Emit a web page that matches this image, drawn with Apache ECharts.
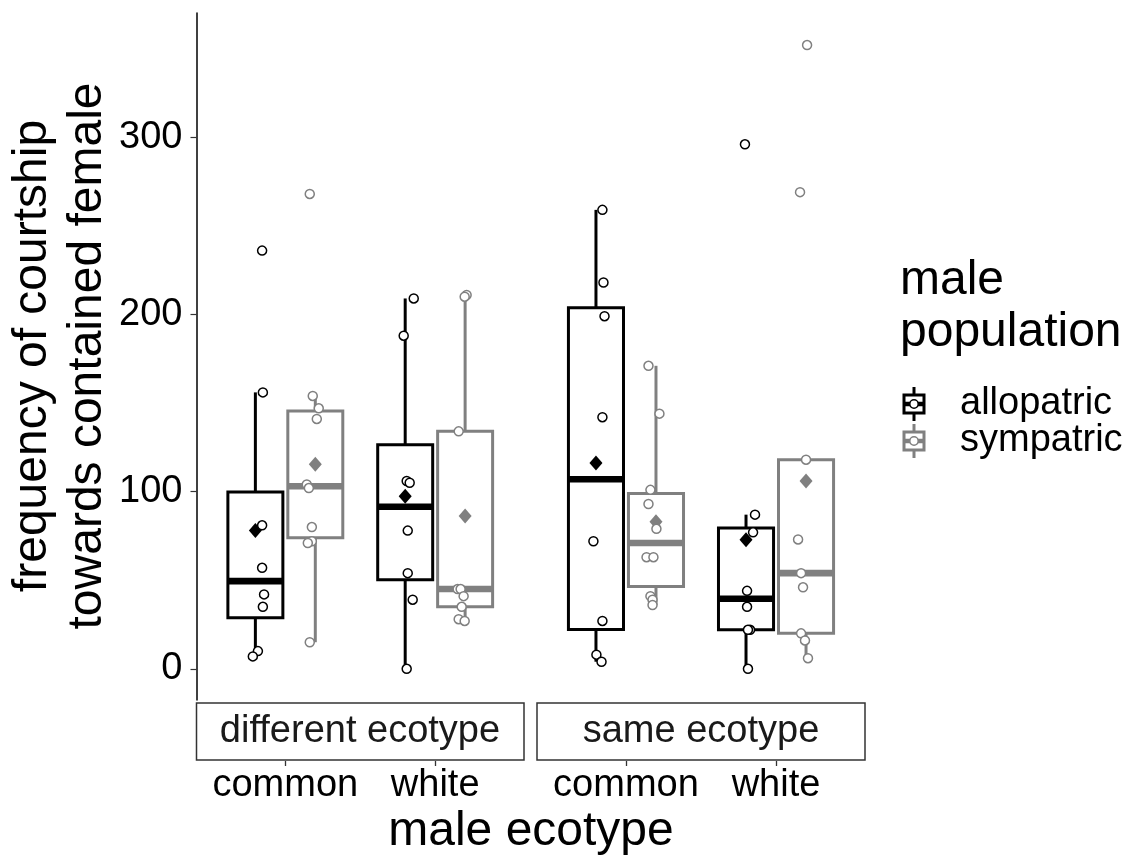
<!DOCTYPE html>
<html><head><meta charset="utf-8">
<script src="https://cdn.jsdelivr.net/npm/echarts@6/dist/echarts.min.js"></script>
<style>html,body{margin:0;padding:0;background:#fff}#c{width:1142px;height:857px}</style>
</head><body><div id="c"></div>
<script>
// ---------- data ----------
const facets = ['different ecotype', 'same ecotype'];
const ecotypes = ['common', 'white'];
const populations = ['allopatric', 'sympatric'];
const yTicks = [0, 100, 200, 300];

const diffCommonAllo = [236, 156, 81, 57, 42, 35, 10, 7];
const diffCommonSym  = [268, 154, 147, 141, 104, 102, 80, 72, 71, 15];
const diffWhiteAllo  = [209, 188, 106, 105, 78, 54, 39, 0];
const diffWhiteSym   = [211, 210, 134, 45, 45, 41, 35, 28, 27];
const sameCommonAllo = [259, 218, 199, 142, 72, 27, 8, 4];
const sameCommonSym  = [171, 144, 101, 93, 79, 63, 63, 41, 39, 36];
const sameWhiteAllo  = [296, 87, 77, 44, 35, 22, 22, 0];
const sameWhiteSym   = [352, 269, 118, 73, 54, 46, 20, 16, 6];

// horizontal jitter of each point (category units)
const diffCommonAlloJit = [0.045, 0.05, 0.045, 0.045, 0.058, 0.05, 0.017, -0.017];
const diffCommonSymJit  = [-0.037, -0.017, 0.023, 0.01, -0.057, -0.043, -0.023, -0.023, -0.05, -0.037];
const diffWhiteAlloJit  = [0.057, -0.01, 0.01, 0.03, 0.017, 0.017, 0.05, 0.01];
const diffWhiteSymJit   = [0.01, -0.003, -0.043, -0.05, -0.03, -0.01, -0.023, -0.043, -0.003];
const sameCommonAlloJit = [0.043, 0.05, 0.057, 0.043, -0.017, 0.043, 0.003, 0.037];
const sameCommonSymJit  = [-0.05, 0.023, -0.037, -0.05, 0.003, -0.063, -0.017, -0.037, -0.023, -0.023];
const sameWhiteAlloJit  = [-0.007, 0.06, 0.047, 0.007, 0.007, 0.027, 0.013, 0.013];
const sameWhiteSymJit   = [0.007, -0.04, 0, -0.053, -0.033, -0.02, -0.033, -0.007, 0.013];

const values = [
  [[diffCommonAllo, diffCommonSym], [diffWhiteAllo, diffWhiteSym]],
  [[sameCommonAllo, sameCommonSym], [sameWhiteAllo, sameWhiteSym]]
];
const jitters = [
  [[diffCommonAlloJit, diffCommonSymJit], [diffWhiteAlloJit, diffWhiteSymJit]],
  [[sameCommonAlloJit, sameCommonSymJit], [sameWhiteAlloJit, sameWhiteSymJit]]
];

// ---------- style ----------
const FONT = '"Liberation Sans", Arial, Helvetica, sans-serif';
const COLORS = ['#000000', '#808080'];
const DODGE = 0.2, BOX_W = 0.367;
const LW = 3;

function quantile(s, p) {
  const h = (s.length - 1) * p, lo = Math.floor(h);
  const nxt = lo + 1 < s.length ? s[lo + 1] : s[lo];
  return s[lo] + (h - lo) * (nxt - s[lo]);
}
function boxStats(arr) {
  const s = arr.slice().sort((a, b) => a - b);
  const q1 = quantile(s, 0.25), med = quantile(s, 0.5), q3 = quantile(s, 0.75);
  const iqr = q3 - q1;
  const lo = Math.min(...s.filter(v => v >= q1 - 1.5 * iqr));
  const hi = Math.max(...s.filter(v => v <= q3 + 1.5 * iqr));
  return [lo, q1, med, q3, hi];
}
function mean(a) { return a.reduce((x, y) => x + y, 0) / a.length; }

function makeRender(color) {
  return function (params, api) {
    const x = api.value(0);
    const pLo = api.coord([x, api.value(1)]);
    const cx = pLo[0], yLo = pLo[1];
    const yQ1 = api.coord([x, api.value(2)])[1];
    const yMed = api.coord([x, api.value(3)])[1];
    const yQ3 = api.coord([x, api.value(4)])[1];
    const yHi = api.coord([x, api.value(5)])[1];
    const xl = api.coord([x - BOX_W / 2, 0])[0];
    const xr = api.coord([x + BOX_W / 2, 0])[0];
    const ls = { stroke: color, lineWidth: LW, lineCap: 'butt' };
    return {
      type: 'group',
      children: [
        { type: 'line', shape: { x1: cx, y1: yHi, x2: cx, y2: yQ3 }, style: ls },
        { type: 'line', shape: { x1: cx, y1: yQ1, x2: cx, y2: yLo }, style: ls },
        { type: 'rect', shape: { x: xl, y: yQ3, width: xr - xl, height: yQ1 - yQ3 },
          style: { fill: '#ffffff', stroke: color, lineWidth: LW, lineJoin: 'miter' } },
        { type: 'line', shape: { x1: xl, y1: yMed, x2: xr, y2: yMed },
          style: { stroke: color, lineWidth: LW * 2.2, lineCap: 'butt' } }
      ]
    };
  };
}

const grids = [
  { left: 196.5, top: 13, width: 327.5, height: 687 },
  { left: 537, top: 13, width: 328, height: 687 }
];
const xAxes = [], yAxes = [], series = [];
for (let f = 0; f < 2; f++) {
  xAxes.push({
    type: 'value', gridIndex: f, min: -0.593, max: 1.593, position: 'bottom', offset: 61,
    axisLine: { show: false, onZero: false },
    axisTick: { show: true, customValues: [0, 1], length: 5, lineStyle: { color: '#333', width: 1.3 } },
    axisLabel: { customValues: [0, 1], formatter: v => ecotypes[Math.round(v)],
      fontSize: 38, fontFamily: FONT, color: '#000', margin: 6, lineHeight: 38 },
    splitLine: { show: false }
  });
  yAxes.push({
    type: 'value', gridIndex: f, min: -17.6, max: 370.1, position: 'left', show: f === 0,
    axisLine: { show: true, onZero: false, lineStyle: { color: '#000', width: 1.5 } },
    axisTick: { show: true, customValues: yTicks, length: 6, lineStyle: { color: '#333', width: 1.2 } },
    axisLabel: { customValues: yTicks, fontSize: 38, fontFamily: FONT, color: '#000', margin: 14 },
    splitLine: { show: false }
  });
  for (let p = 0; p < 2; p++) {
    const off = p === 0 ? -DODGE : DODGE;
    const boxData = [], meanData = [], ptData = [];
    for (let e = 0; e < 2; e++) {
      const v = values[f][e][p], j = jitters[f][e][p];
      boxData.push([e + off].concat(boxStats(v)));
      meanData.push([e + off, mean(v)]);
      v.forEach((val, i) => ptData.push([e + off + j[i], val]));
    }
    series.push({
      type: 'custom', name: populations[p], xAxisIndex: f, yAxisIndex: f,
      renderItem: makeRender(COLORS[p]), data: boxData, z: 2,
      encode: { x: 0, y: [1, 2, 3, 4, 5] }
    });
    series.push({
      type: 'scatter', xAxisIndex: f, yAxisIndex: f, data: meanData, z: 3,
      symbol: 'diamond', symbolSize: [13, 15], itemStyle: { color: COLORS[p], opacity: 1 }, silent: true
    });
    series.push({
      type: 'scatter', xAxisIndex: f, yAxisIndex: f, data: ptData, z: 4,
      symbol: 'circle', symbolSize: 9,
      itemStyle: { color: '#ffffff', borderColor: COLORS[p], borderWidth: 1.5, opacity: 1 }, silent: true
    });
  }
}

// legend key glyph
function legendKey(cx, cy, color) {
  return {
    type: 'group', children: [
      { type: 'line', shape: { x1: cx, y1: cy - 17, x2: cx, y2: cy + 17 }, style: { stroke: color, lineWidth: 3 } },
      { type: 'rect', shape: { x: cx - 10, y: cy - 9, width: 20, height: 18 }, style: { fill: '#fff', stroke: color, lineWidth: 3 } },
      { type: 'line', shape: { x1: cx - 10, y1: cy, x2: cx + 10, y2: cy }, style: { stroke: color, lineWidth: 4.5 } },
      { type: 'circle', shape: { cx: cx, cy: cy, r: 4.2 }, style: { fill: '#fff', stroke: color, lineWidth: 1.5 } }
    ]
  };
}

const graphic = [
  { type: 'text', x: 60, y: 356, rotation: Math.PI / 2,
    style: { text: 'frequency of courtship\ntowards contained female', font: '48px ' + FONT,
      lineHeight: 55, align: 'center', verticalAlign: 'middle', fill: '#000' } },
  { type: 'text', x: 531, y: 832,
    style: { text: 'male ecotype', font: '48px ' + FONT, align: 'center', verticalAlign: 'middle', fill: '#000' } },
  { type: 'rect', shape: { x: 196.5, y: 703, width: 327.5, height: 57 }, style: { fill: 'none', stroke: '#333', lineWidth: 1.5 } },
  { type: 'text', x: 360, y: 732,
    style: { text: facets[0], font: '38px ' + FONT, align: 'center', verticalAlign: 'middle', fill: '#1a1a1a' } },
  { type: 'rect', shape: { x: 537, y: 703, width: 328, height: 57 }, style: { fill: 'none', stroke: '#333', lineWidth: 1.5 } },
  { type: 'text', x: 701, y: 732,
    style: { text: facets[1], font: '38px ' + FONT, align: 'center', verticalAlign: 'middle', fill: '#1a1a1a' } },
  { type: 'text', x: 900, y: 281,
    style: { text: 'male', font: '48px ' + FONT, align: 'left', verticalAlign: 'middle', fill: '#000' } },
  { type: 'text', x: 900, y: 333,
    style: { text: 'population', font: '48px ' + FONT, align: 'left', verticalAlign: 'middle', fill: '#000' } },
  legendKey(914, 404, COLORS[0]),
  legendKey(914, 441, COLORS[1]),
  { type: 'text', x: 960, y: 404,
    style: { text: populations[0], font: '38px ' + FONT, align: 'left', verticalAlign: 'middle', fill: '#000' } },
  { type: 'text', x: 960, y: 441,
    style: { text: populations[1], font: '38px ' + FONT, align: 'left', verticalAlign: 'middle', fill: '#000' } }
];

const chart = echarts.init(document.getElementById('c'), null, { renderer: 'canvas' });
chart.setOption({
  animation: false,
  backgroundColor: '#ffffff',
  grid: grids,
  xAxis: xAxes,
  yAxis: yAxes,
  series: series,
  graphic: graphic
});
</script>
</body></html>
